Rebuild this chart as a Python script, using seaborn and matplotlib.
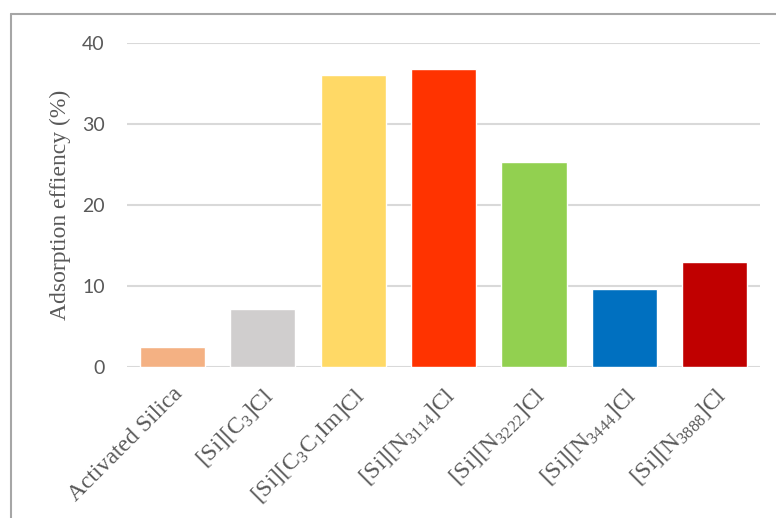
import matplotlib
matplotlib.use("Agg")
import matplotlib.pyplot as plt
from matplotlib.lines import Line2D
from matplotlib.font_manager import FontProperties, findfont
import seaborn as sns
import pandas as pd

# Adsorbents and their adsorption efficiency (%)
adsorbents = [
    "Activated Silica",
    r"[Si][C$_{3}$]Cl",
    r"[Si][C$_{3}$C$_{1}$Im]Cl",
    r"[Si][N$_{3114}$]Cl",
    r"[Si][N$_{3222}$]Cl",
    r"[Si][N$_{3444}$]Cl",
    r"[Si][N$_{3888}$]Cl",
]
efficiency = [2.5, 7.2, 36.0, 36.8, 25.3, 9.6, 13.0]
bar_colors = ["#F4B183", "#D0CECE", "#FFD966", "#FF3300", "#92D050", "#0070C0", "#C00000"]
y_ticks = [0, 10, 20, 30, 40]

sns.set_theme(style="white")
plt.rcParams["font.family"] = ["Liberation Serif", "DejaVu Serif"]
plt.rcParams["mathtext.fontset"] = "custom"
plt.rcParams["mathtext.rm"] = "Liberation Serif"
plt.rcParams["mathtext.default"] = "regular"

serif_path = findfont(FontProperties(family="Liberation Serif"))
sans_path = findfont(FontProperties(family="Lato"))
label_font = FontProperties(fname=serif_path, size=17)
ylabel_font = FontProperties(fname=serif_path, size=17)
tick_font = FontProperties(fname=sans_path, size=14)

df = pd.DataFrame({"adsorbent": adsorbents, "efficiency": efficiency})

fig = plt.figure(figsize=(7.76, 5.18), dpi=100)
ax = fig.add_axes([0.1637, 0.2915, 0.8157, 0.6255])

sns.barplot(data=df, x="adsorbent", y="efficiency", hue="adsorbent",
            palette=bar_colors, width=0.72, saturation=1, legend=False, ax=ax)

ax.set_ylim(0, 40)
ax.set_xlim(-0.5, len(adsorbents) - 0.5)
ax.set_yticks(y_ticks)
ax.set_yticklabels([str(t) for t in y_ticks], fontproperties=tick_font, color="#595959")
ax.yaxis.grid(True, color="#D9D9D9", linewidth=1.5)
ax.set_axisbelow(True)
for side in ["top", "right", "left", "bottom"]:
    ax.spines[side].set_visible(False)

ax.tick_params(axis="y", length=0, pad=16)

ax.tick_params(axis="x", length=0, pad=12)
ax.set_xticks(range(len(adsorbents)))
ax.set_xticklabels(adsorbents, rotation=45, ha="right", rotation_mode="anchor",
                   fontproperties=label_font, color="#595959")

ax.set_xlabel("")
ax.set_ylabel("Adsorption effiency (%)", fontproperties=ylabel_font, color="#595959",
              labelpad=8)

# Chart area border (top and left edges)
fig.add_artist(Line2D([11 / 776, 11 / 776], [0, 1 - 14 / 518], transform=fig.transFigure,
                      color="#A6A6A6", linewidth=1.5))
fig.add_artist(Line2D([11 / 776, 1], [1 - 14 / 518, 1 - 14 / 518], transform=fig.transFigure,
                      color="#A6A6A6", linewidth=1.5))

fig.savefig("out.png", dpi=100, facecolor="white")
